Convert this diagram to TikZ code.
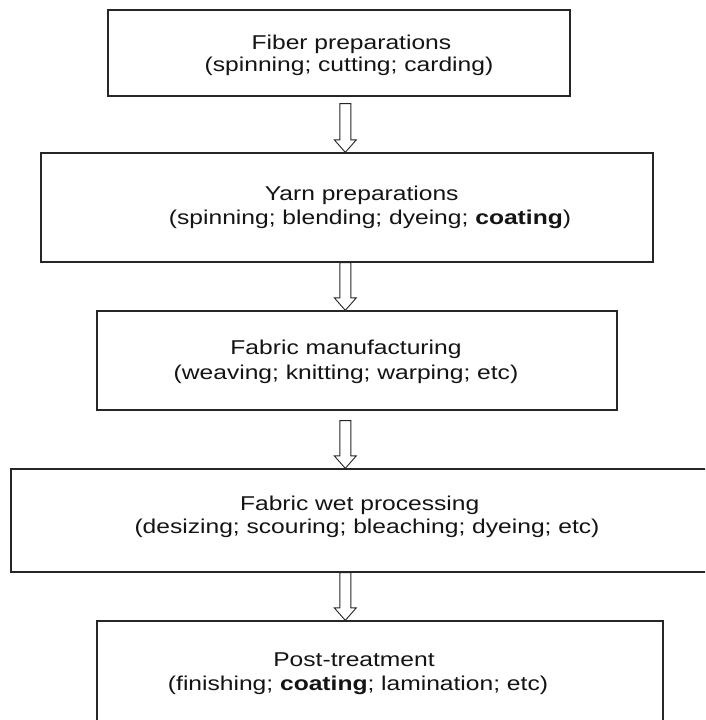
\documentclass[tikz,border=0pt]{standalone}
\usepackage{fontspec}
\setmainfont[FakeStretch=1.23]{Liberation Sans}
\usetikzlibrary{calc}
\tikzset{
  stage/.style={draw=black!85, line width=1.3pt, rectangle, inner sep=0pt},
  lbl/.style={font=\fontsize{20}{24}\selectfont, text=black!92, inner sep=0pt, anchor=base},
  barrow/.style={draw=black!85, line width=0.9pt, line join=miter}
}
\newcommand\blockarrow[2]{%
  \draw[barrow] ($(#1)+(-5.5,0)$) -- ($(#2)+(-5.5,12.5)$) -- ($(#2)+(-11,12.5)$) -- (#2)
    -- ($(#2)+(11,12.5)$) -- ($(#2)+(5.5,12.5)$) -- ($(#1)+(5.5,0)$) -- cycle;}
\begin{document}
\begin{tikzpicture}[x=1pt,y=1pt]
  \useasboundingbox (0,0) rectangle (705,720);
  \clip (0,0) rectangle (705,720);
  \fill[white] (0,0) rectangle (705,720);

  % boxes
  \node[stage, minimum width=462pt, minimum height=86pt]  (b1) at (339,667) {};
  \node[stage, minimum width=612pt, minimum height=109pt] (b2) at (347,512.5) {};
  \node[stage, minimum width=520pt, minimum height=99pt]  (b3) at (357,359.5) {};
  \node[stage, minimum width=699pt, minimum height=103pt] (b4) at (360.5,199.5) {};
  \node[stage, minimum width=566pt, minimum height=104pt] (b5) at (380,47) {};

  % texts
  \node[lbl] (t1) at (351.4,670) {Fiber preparations};
  \node[lbl] (s1) at (349,648.5) {(spinning; cutting; carding)};
  \node[lbl] (t2) at (361.7,519.3) {Yarn preparations};
  \node[lbl] (s2) at (370,495) {(spinning; blending; dyeing; \textbf{coating})};
  \node[lbl] (t3) at (346,365) {Fabric manufacturing};
  \node[lbl] (s3) at (346,340) {(weaving; knitting; warping; etc)};
  \node[lbl] (t4) at (359.7,209.3) {Fabric wet processing};
  \node[lbl] (s4) at (367,186) {(desizing; scouring; bleaching; dyeing; etc)};
  \node[lbl] (t5) at (354,53.3) {Post-treatment};
  \node[lbl] (s5) at (358,29.3) {(finishing; \textbf{coating}; lamination; etc)};

  % arrows
  \coordinate (ax) at (345.3,0);
  \path (b1.south -| ax) ++(0,-7) coordinate (a1s);
  \path (b2.north -| ax) coordinate (a1e);
  \path (b2.south -| ax) coordinate (a2s);
  \path (b3.north -| ax) coordinate (a2e);
  \path (b3.south -| ax) ++(0,-10) coordinate (a3s);
  \path (b4.north -| ax) coordinate (a3e);
  \path (b4.south -| ax) coordinate (a4s);
  \path (b5.north -| ax) coordinate (a4e);
  \blockarrow{a1s}{a1e}
  \blockarrow{a2s}{a2e}
  \blockarrow{a3s}{a3e}
  \blockarrow{a4s}{a4e}
\end{tikzpicture}
\end{document}
